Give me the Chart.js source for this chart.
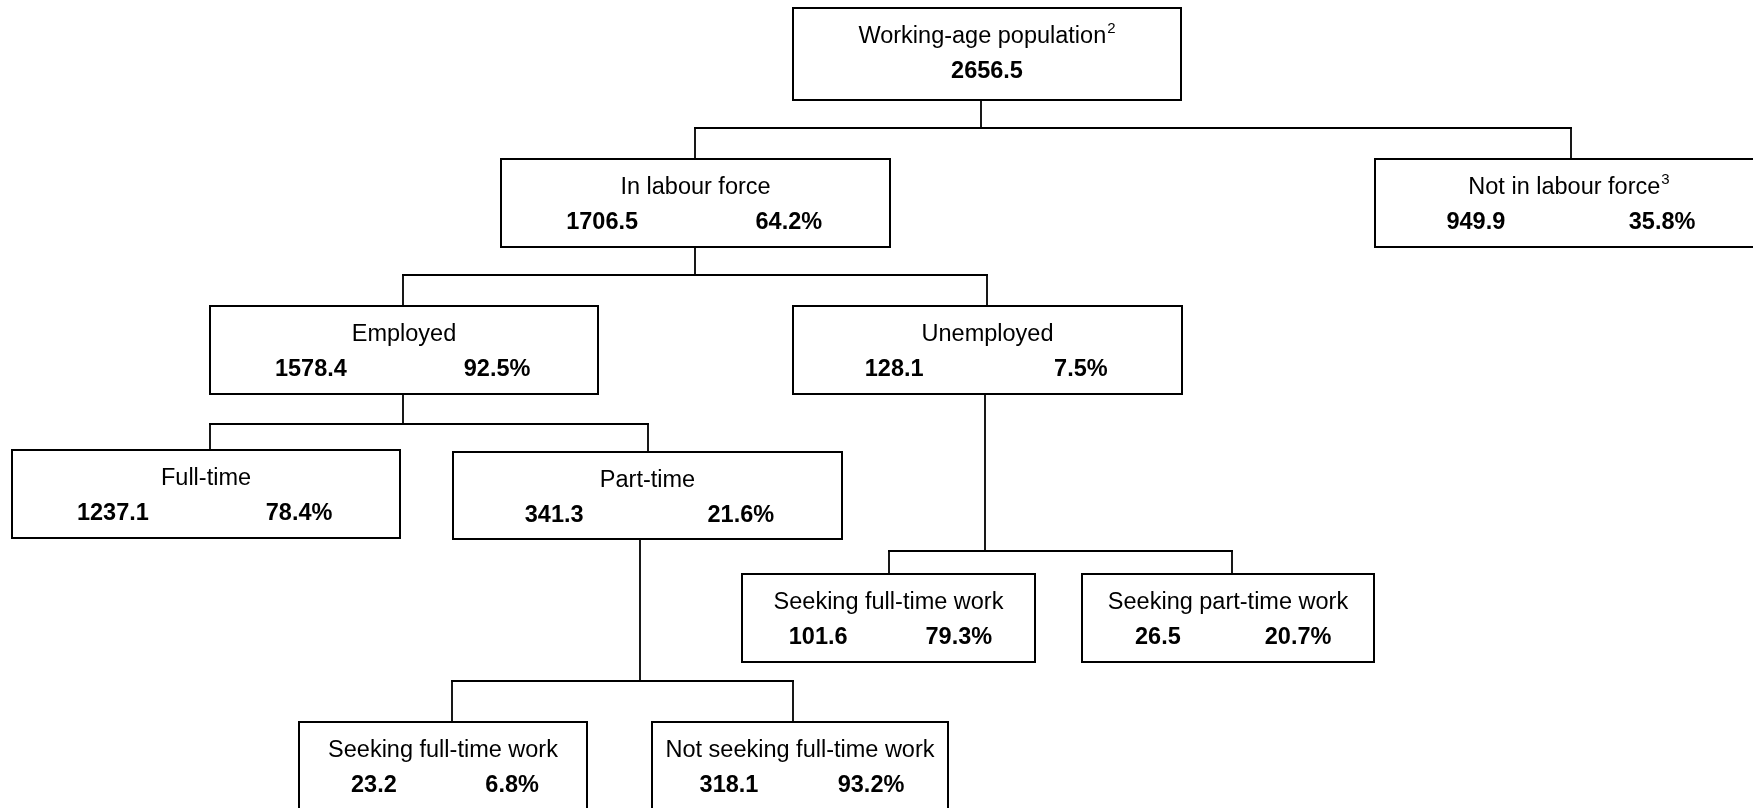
<!DOCTYPE html>
<html>
<head>
<meta charset="utf-8">
<title>Labour force tree</title>
<script src="https://cdn.jsdelivr.net/npm/chart.js@4.4.0/dist/chart.umd.min.js"></script>
<style>
    html, body { margin: 0; padding: 0; background: #fff; }
    #wrap { width: 1753px; height: 808px; position: relative; }
</style>
</head>
<body>
<div id="wrap"><canvas id="labourTree"></canvas></div>
<script>
    // Node data (thousands, share of parent)
    const nodeNames = [
        'Working-age population', 'In labour force', 'Not in labour force',
        'Employed', 'Unemployed', 'Full-time', 'Part-time',
        'Seeking full-time work', 'Seeking part-time work',
        'Seeking full-time work', 'Not seeking full-time work'
    ];
    const nodeNotes = ['2', '', '3', '', '', '', '', '', '', '', ''];
    const nodeValues = [2656.5, 1706.5, 949.9, 1578.4, 128.1, 1237.1, 341.3, 101.6, 26.5, 23.2, 318.1];
    const nodeShares = [null, 64.2, 35.8, 92.5, 7.5, 78.4, 21.6, 79.3, 20.7, 6.8, 93.2];
    const nodeParents = [-1, 0, 0, 1, 1, 3, 3, 4, 4, 6, 6];

    // Box placement in diagram units (y grows downwards)
    const boxLayout = [
        { x: 793,  y: 8,   w: 388, h: 92, outX: 981, bus: 128, t1: 35, t2: 70 },
        { x: 501,  y: 159, w: 389, h: 88, inX: 695,  outX: 695, bus: 275 },
        { x: 1375, y: 159, w: 388, h: 88, inX: 1571 },
        { x: 210,  y: 306, w: 388, h: 88, inX: 403,  outX: 403, bus: 424 },
        { x: 793,  y: 306, w: 389, h: 88, inX: 987,  outX: 985, bus: 551 },
        { x: 12,   y: 450, w: 388, h: 88, inX: 210 },
        { x: 453,  y: 452, w: 389, h: 87, inX: 648,  outX: 640, bus: 681 },
        { x: 742,  y: 574, w: 293, h: 88, inX: 889 },
        { x: 1082, y: 574, w: 292, h: 88, inX: 1232 },
        { x: 299,  y: 722, w: 288, h: 88, inX: 452 },
        { x: 652,  y: 722, w: 296, h: 88, inX: 793 }
    ];

    const FONT = "'Liberation Sans', Arial, Helvetica, sans-serif";
    const INK = '#000';

    // Build connector segments as line datasets
    function buildConnectors() {
        const sets = [];
        const seg = (pts) => sets.push({
            data: pts,
            showLine: true,
            borderColor: INK,
            borderWidth: 1.8,
            pointRadius: 0,
            borderCapStyle: 'square',
            tension: 0
        });
        boxLayout.forEach((b, p) => {
            const kids = nodeParents.map((par, i) => par === p ? i : -1).filter(i => i >= 0);
            if (!kids.length) return;
            seg([{ x: b.outX, y: b.y + b.h }, { x: b.outX, y: b.bus }]);
            const xs = kids.map(k => boxLayout[k].inX);
            seg([{ x: Math.min(...xs), y: b.bus }, { x: Math.max(...xs), y: b.bus }]);
            kids.forEach(k => {
                const c = boxLayout[k];
                seg([{ x: c.inX, y: b.bus }, { x: c.inX, y: c.y }]);
            });
        });
        return sets;
    }

    // Draws the boxes and their labels
    const boxPlugin = {
        id: 'treeBoxes',
        afterDatasetsDraw(chart) {
            const { ctx } = chart;
            const sx = chart.scales.x, sy = chart.scales.y;
            ctx.save();
            boxLayout.forEach((b, i) => {
                const left = sx.getPixelForValue(b.x);
                const right = sx.getPixelForValue(b.x + b.w);
                const top = sy.getPixelForValue(b.y);
                const bottom = sy.getPixelForValue(b.y + b.h);
                ctx.fillStyle = '#fff';
                ctx.fillRect(left, top, right - left, bottom - top);
                ctx.strokeStyle = INK;
                ctx.lineWidth = 2;
                ctx.strokeRect(left, top, right - left, bottom - top);

                const cx = (left + right) / 2;
                const w = right - left;
                const t1 = top + (b.t1 || 35);
                const t2 = top + (b.t2 || 70);

                // title + optional footnote mark
                ctx.fillStyle = INK;
                ctx.textBaseline = 'alphabetic';
                ctx.font = '23.5px ' + FONT;
                const tw = ctx.measureText(nodeNames[i]).width;
                let nw = 0;
                if (nodeNotes[i]) {
                    ctx.font = '15px ' + FONT;
                    nw = ctx.measureText(nodeNotes[i]).width + 1;
                }
                const startX = cx - (tw + nw) / 2;
                ctx.textAlign = 'left';
                ctx.font = '23.5px ' + FONT;
                ctx.fillText(nodeNames[i], startX, t1);
                if (nodeNotes[i]) {
                    ctx.font = '15px ' + FONT;
                    ctx.fillText(nodeNotes[i], startX + tw + 1, t1 - 10);
                }

                // values
                ctx.font = 'bold 23.5px ' + FONT;
                ctx.textAlign = 'center';
                if (nodeShares[i] === null) {
                    ctx.fillText(nodeValues[i].toFixed(1), cx, t2);
                } else {
                    ctx.fillText(nodeValues[i].toFixed(1), cx - 0.24 * w, t2);
                    ctx.fillText(nodeShares[i].toFixed(1) + '%', cx + 0.24 * w, t2);
                }
            });
            ctx.restore();
        }
    };

    new Chart(document.getElementById('labourTree'), {
        type: 'scatter',
        data: { datasets: buildConnectors() },
        options: {
            responsive: true,
            maintainAspectRatio: false,
            animation: false,
            layout: { padding: 0 },
            plugins: {
                legend: { display: false },
                tooltip: { enabled: false }
            },
            scales: {
                x: { type: 'linear', min: 0, max: 1753, display: false },
                y: { type: 'linear', min: 0, max: 808, reverse: true, display: false }
            }
        },
        plugins: [boxPlugin]
    });
</script>
</body>
</html>
